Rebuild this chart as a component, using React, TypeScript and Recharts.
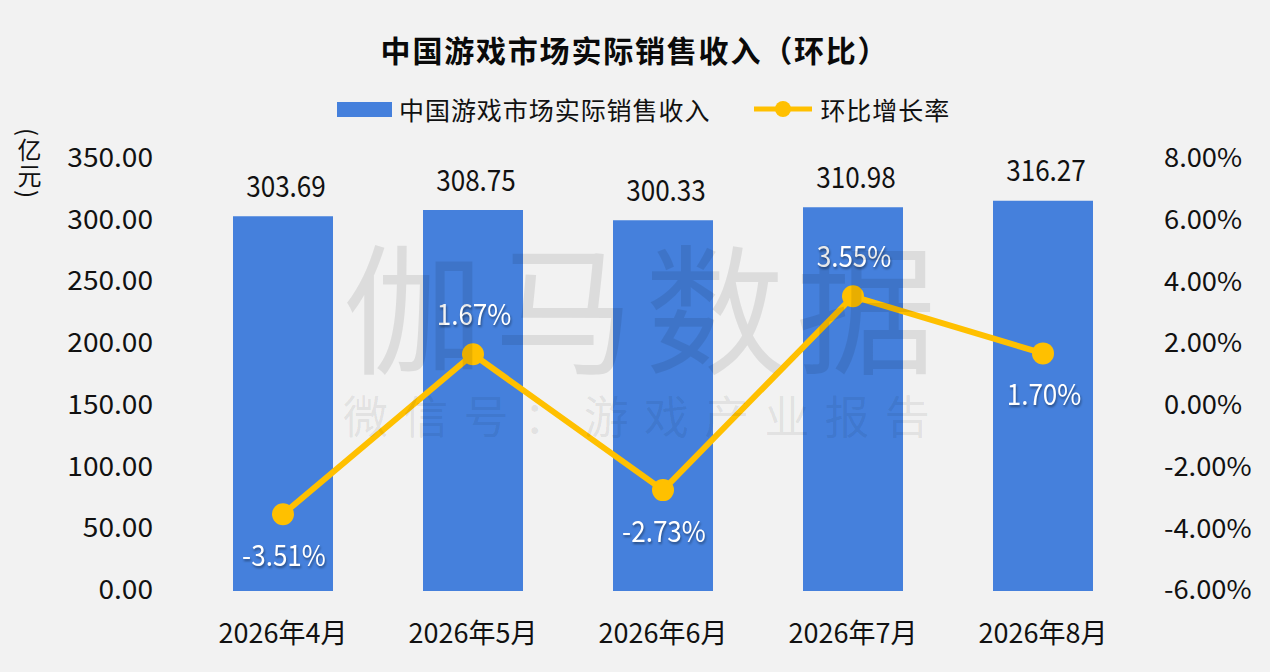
import React from "react";
import { ComposedChart, Bar, Line, XAxis, YAxis, LabelList, Legend } from "recharts";

const months = ["2026年4月", "2026年5月", "2026年6月", "2026年7月", "2026年8月"];
const revenue = [303.69, 308.75, 300.33, 310.98, 316.27];
const growth = [-3.51, 1.67, -2.73, 3.55, 1.7];
const leftTicks = [0, 50, 100, 150, 200, 250, 300, 350];
const rightTicks = [-6, -4, -2, 0, 2, 4, 6, 8];
const labelsBelowLine = [true, false, true, false, true];
const REV = "中国游戏市场实际销售收入";
const GRO = "环比增长率";

const data = months.map((m, i) => ({ month: m, [REV]: revenue[i], [GRO]: growth[i] }));
const FONT = '"Noto Sans CJK SC", "Noto Sans", sans-serif';
const BLUE = "#4580DC";
const GOLD = "#FFC000";

const Squeezed = ({ x, y, text, anchor, size, fill, shadow, sx = 0.88 }: any) => (
  <text
    transform={`translate(${x} ${y}) scale(${sx} 1)`}
    textAnchor={anchor}
    dominantBaseline="central"
    fontSize={size}
    fontFamily={FONT}
    fill={fill}
    style={shadow ? { filter: "drop-shadow(1px 2px 1px rgba(0,0,0,0.4))" } : undefined}
  >
    {text}
  </text>
);

const LeftTick = ({ x, y, payload }: any) => (
  <Squeezed x={x} y={y - 3} text={payload.value.toFixed(2)} anchor="end" size={26} fill="#111" sx={1.08} />
);
const RightTick = ({ x, y, payload }: any) => (
  <Squeezed x={x} y={y - 3} text={payload.value.toFixed(2) + "%"} anchor="start" size={26} fill="#111" sx={1.05} />
);
const BottomTick = ({ x, y, payload }: any) => (
  <text x={x} y={y - 1} textAnchor="middle" dominantBaseline="central" fontSize={27} fontFamily={FONT} fill="#111">
    {payload.value}
  </text>
);

const BarValue = ({ x, y, width, value }: any) => (
  <Squeezed x={x + width / 2 + 3} y={y - 32} text={Number(value).toFixed(2)} anchor="middle" size={29} fill="#111" sx={0.9} />
);
const LineValue = ({ x, y, value, index }: any) => (
  <Squeezed
    x={x + 1}
    y={y + (labelsBelowLine[index] ? 39 : -42)}
    text={Number(value).toFixed(2) + "%"}
    anchor="middle"
    size={29}
    fill="#fff"
    shadow
    sx={0.9}
  />
);

const LegendBox = ({ payload }: any) => (
  <div style={{ display: "flex", alignItems: "center", fontFamily: FONT, fontSize: 25, letterSpacing: 0.95, color: "#111", height: 36 }}>
    {(payload || [])
      .slice()
      .sort((a: any) => (a.value === REV ? -1 : 1))
      .map((p: any) =>
        p.value === REV ? (
          <span key={p.value} style={{ display: "flex", alignItems: "center", marginRight: 44 }}>
            <span style={{ width: 55, height: 15, background: BLUE, marginRight: 7 }} />
            {p.value}
          </span>
        ) : (
          <span key={p.value} style={{ display: "flex", alignItems: "center" }}>
            <svg width={58} height={20} style={{ marginRight: 8 }}>
              <line x1={0} y1={10} x2={58} y2={10} stroke={GOLD} strokeWidth={5} />
              <circle cx={29} cy={10} r={8} fill={GOLD} />
            </svg>
            {p.value}
          </span>
        )
      )}
  </div>
);

const abs = (o: React.CSSProperties): React.CSSProperties => ({ position: "absolute", whiteSpace: "nowrap", fontFamily: FONT, ...o });

export default function App() {
  return (
    <div style={{ position: "fixed", left: 0, top: 0, width: 1270, height: 672, background: "#F2F2F2", overflow: "hidden" }}>
      <ComposedChart
        width={1270}
        height={672}
        data={data}
        margin={{ top: 123, right: 0, bottom: 0, left: 0 }}
        barCategoryGap={0}
      >
        <XAxis dataKey="month" height={81} axisLine={false} tickLine={false} tick={<BottomTick />} tickMargin={35} interval={0} />
        <YAxis yAxisId="l" width={188} domain={[0, 350]} ticks={leftTicks} axisLine={false} tickLine={false} tick={<LeftTick />} tickMargin={29} interval={0} />
        <YAxis yAxisId="r" orientation="right" width={132} domain={[-6, 8]} ticks={rightTicks} axisLine={false} tickLine={false} tick={<RightTick />} tickMargin={20} interval={0} />
        <Legend verticalAlign="top" align="center" content={<LegendBox />} wrapperStyle={{ top: 91, left: 337, width: 700 }} />
        <Bar yAxisId="l" dataKey={REV} fill={BLUE} barSize={100} isAnimationActive={false}>
          <LabelList content={<BarValue />} />
        </Bar>
        <Line
          yAxisId="r"
          dataKey={GRO}
          stroke={GOLD}
          strokeWidth={6}
          dot={{ r: 11, fill: GOLD, stroke: GOLD, strokeWidth: 0 }}
          isAnimationActive={false}
        >
          <LabelList content={<LineValue />} />
        </Line>
      </ComposedChart>

      <div style={abs({ left: 0, width: 1270, top: 27, textAlign: "center", fontSize: 30, fontWeight: 700, lineHeight: "44px", letterSpacing: 1.8, color: "#0a0a0a", fontFeatureSettings: '"chws" 0' })}>
        中国游戏市场实际销售收入（环比）
      </div>
      <div style={abs({ left: 14, top: 128, writingMode: "vertical-rl", fontSize: 24, lineHeight: "30px", letterSpacing: 2, color: "#111" })}>(亿元)</div>
      <div style={abs({ left: 343, top: 212, fontSize: 140, lineHeight: "180px", letterSpacing: 11, color: "rgba(0,0,0,0.09)", pointerEvents: "none" })}>伽马数据</div>
      <div style={abs({ left: 343, top: 385, fontSize: 45, lineHeight: "60px", letterSpacing: 15.2, color: "rgba(0,0,0,0.08)", pointerEvents: "none" })}>微信号：游戏产业报告</div>
    </div>
  );
}
